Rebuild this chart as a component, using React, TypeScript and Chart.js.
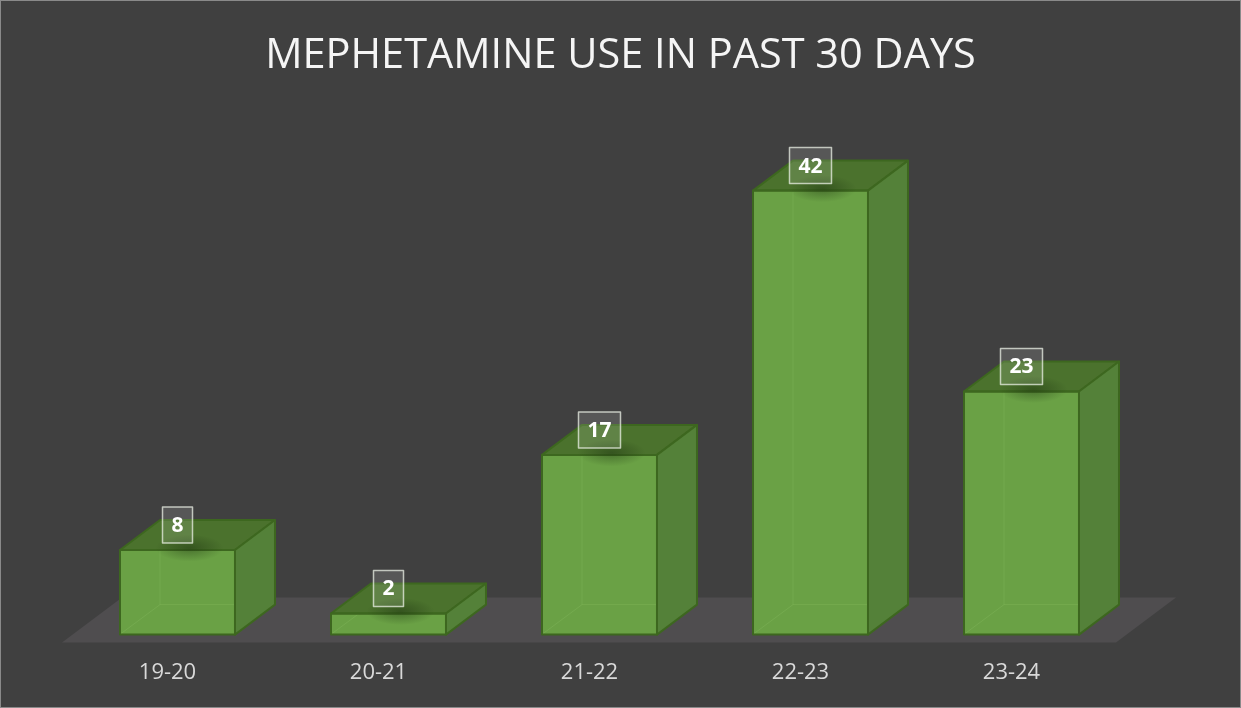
import React, { useEffect, useRef } from "react";
import { Chart, registerables } from "chart.js";

Chart.register(...registerables);

const chartTitle = "MEPHETAMINE USE IN PAST 30 DAYS";
const categories = ["19-20", "20-21", "21-22", "22-23", "23-24"];
const values = [8, 2, 17, 42, 23];

const DEPTH_X = 40;
const DEPTH_Y = 30;
const FRONT = "#6aa145";
const TOP = "#4b722d";
const SIDE = "#548139";
const EDGE = "#3d671f";

function poly(ctx: CanvasRenderingContext2D, pts: number[][], fill: string, stroke: string) {
  ctx.beginPath();
  ctx.moveTo(pts[0][0], pts[0][1]);
  for (let i = 1; i < pts.length; i++) ctx.lineTo(pts[i][0], pts[i][1]);
  ctx.closePath();
  ctx.fillStyle = fill;
  ctx.fill();
  ctx.lineWidth = 2;
  ctx.lineJoin = "round";
  ctx.strokeStyle = stroke;
  ctx.stroke();
}

const background = {
  id: "bgBorder",
  beforeDraw(chart: any) {
    const { ctx, width, height } = chart;
    ctx.save();
    ctx.fillStyle = "#404040";
    ctx.fillRect(0, 0, width, height);
    ctx.strokeStyle = "#8a8a8a";
    ctx.lineWidth = 1;
    ctx.strokeRect(0.5, 0.5, width - 1, height - 1);
    // title, centred on the whole canvas
    ctx.fillStyle = "#f5f5f5";
    ctx.font = "41.5px 'Open Sans'";
    ctx.textAlign = "center";
    ctx.textBaseline = "alphabetic";
    ctx.fillText(chartTitle, width / 2, 68);
    ctx.restore();
  },
};

const threeD = {
  id: "threeD",
  beforeDatasetsDraw(chart: any) {
    const { ctx, chartArea, scales } = chart;
    const base = scales.y.getPixelForValue(0);
    const fl = chartArea.left - 10;
    const fr = chartArea.right - 11;
    const fy = base + 8;
    const by = base - 37;
    ctx.save();
    ctx.fillStyle = "#4f4d4f";
    ctx.beginPath();
    ctx.moveTo(fl, fy);
    ctx.lineTo(fr, fy);
    ctx.lineTo(fr + 60, by);
    ctx.lineTo(fl + 60, by);
    ctx.closePath();
    ctx.fill();
    ctx.restore();
  },
  afterDatasetsDraw(chart: any) {
    const { ctx } = chart;
    const meta = chart.getDatasetMeta(0);
    ctx.save();
    meta.data.forEach((bar: any, i: number) => {
      const { x, y, base, width } = bar.getProps(["x", "y", "base", "width"], true);
      const l = x - width / 2;
      const r = x + width / 2;
      // hidden edges seen through the translucent front
      ctx.strokeStyle = "rgba(160,210,120,0.18)";
      ctx.lineWidth = 1;
      ctx.beginPath();
      ctx.moveTo(l + 1, base - 1);
      ctx.lineTo(l + DEPTH_X, base - DEPTH_Y);
      ctx.lineTo(r - 1, base - DEPTH_Y);
      ctx.moveTo(l + DEPTH_X, base - DEPTH_Y);
      ctx.lineTo(l + DEPTH_X, y + 1);
      ctx.stroke();
      // top face
      poly(ctx, [[l, y], [r, y], [r + DEPTH_X, y - DEPTH_Y], [l + DEPTH_X, y - DEPTH_Y]], TOP, EDGE);
      // side face
      poly(ctx, [[r, y], [r + DEPTH_X, y - DEPTH_Y], [r + DEPTH_X, base - DEPTH_Y], [r, base]], SIDE, EDGE);
      // front outline
      ctx.strokeStyle = EDGE;
      ctx.lineWidth = 2;
      ctx.strokeRect(l, y, width, base - y);

      // shadow under the label
      ctx.save();
      ctx.translate(x + 12, y - 2);
      ctx.scale(1, 0.4);
      const g = ctx.createRadialGradient(0, 0, 0, 0, 0, 34);
      g.addColorStop(0, "rgba(20,40,10,0.4)");
      g.addColorStop(1, "rgba(20,40,10,0)");
      ctx.fillStyle = g;
      ctx.beginPath();
      ctx.arc(0, 0, 34, 0, Math.PI * 2);
      ctx.fill();
      ctx.restore();

      // label box
      const text = String(values[i]);
      ctx.font = "bold 21px 'Open Sans'";
      const tw = ctx.measureText(text).width;
      const bw = tw + 18;
      const bh = 36;
      const bx = x - bw / 2;
      const byy = y - 7 - bh;
      ctx.fillStyle = "rgba(255,255,255,0.12)";
      ctx.fillRect(bx, byy, bw, bh);
      ctx.strokeStyle = "rgba(235,240,230,0.75)";
      ctx.lineWidth = 1.5;
      ctx.strokeRect(bx, byy, bw, bh);
      ctx.fillStyle = "#ffffff";
      ctx.textAlign = "center";
      ctx.textBaseline = "middle";
      ctx.fillText(text, x, byy + bh / 2 + 1);
    });
    ctx.restore();
  },
};

export default function App() {
  const ref = useRef<HTMLCanvasElement | null>(null);
  useEffect(() => {
    if (!ref.current) return;
    const chart = new Chart(ref.current, {
      type: "bar",
      data: {
        labels: categories,
        datasets: [
          {
            data: values,
            backgroundColor: FRONT,
            borderColor: EDGE,
            borderWidth: 0,
            barPercentage: 0.545,
            categoryPercentage: 1,
          },
        ],
      },
      options: {
        animation: false,
        responsive: false,
        devicePixelRatio: 1,
        layout: { padding: { left: 72, right: 114, top: 106, bottom: -3 } },
        plugins: {
          legend: { display: false },
          tooltip: { enabled: false },
          title: { display: false },
        },
        scales: {
          x: {
            type: "category",
            grid: { display: false, drawTicks: false },
            border: { display: false },
            ticks: {
              color: "#d9d9d9",
              font: { family: "'Open Sans'", size: 22 },
              padding: 25,
              labelOffset: -10,
              maxRotation: 0,
            },
          },
          y: { display: false, min: 0, max: 50 },
        },
      },
      plugins: [background, threeD],
    } as any);
    return () => chart.destroy();
  }, []);
  return (
    <div style={{ position: "absolute", left: 0, top: 0, width: 1241, height: 708 }}>
      <canvas ref={ref} width={1241} height={708} />
    </div>
  );
}
